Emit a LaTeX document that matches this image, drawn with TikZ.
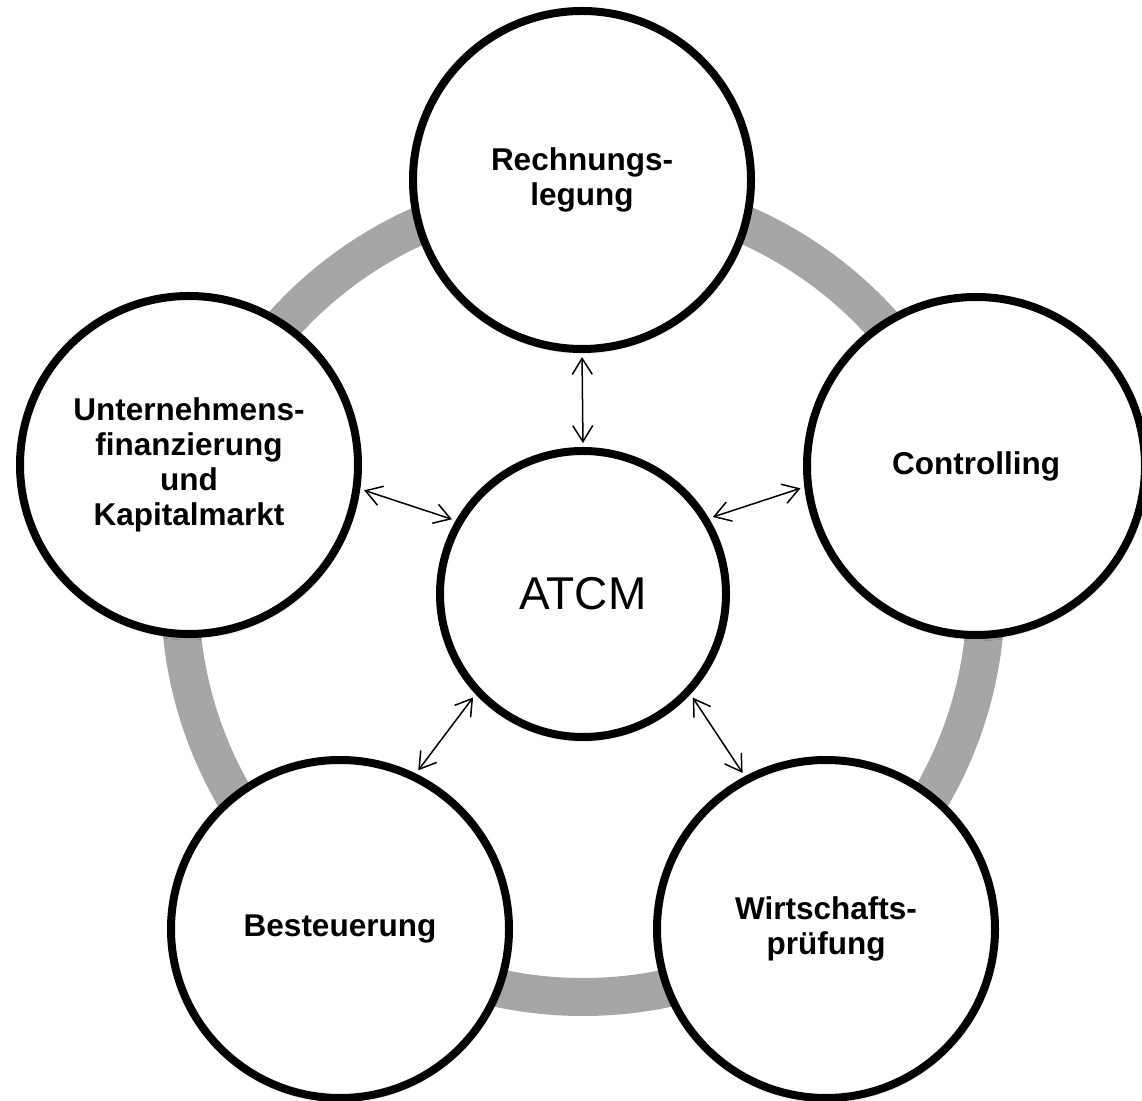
\documentclass[tikz,border=0pt]{standalone}
\usepackage{fontspec}
\setmainfont{Liberation Sans}
\usetikzlibrary{arrows.meta,shadows.blur}
\definecolor{ringgray}{RGB}{166,166,166}
\begin{document}
\begin{tikzpicture}[x=1pt,y=1pt,
  topic/.style={circle, draw=black, line width=8pt, fill=white, minimum size=338pt, inner sep=0pt, align=center,
    font=\fontsize{31.5}{35}\selectfont\bfseries,
    blur shadow={shadow xshift=0pt, shadow yshift=-3pt, shadow blur radius=3pt, shadow opacity=30}},
  hub/.style={topic, minimum size=286pt, font=\fontsize{46}{50}\selectfont},
  link/.style={{Straight Barb[length=16pt,width=20pt]}-{Straight Barb[length=16pt,width=20pt]}, line width=1.5pt, shorten <=4pt, shorten >=4pt}]
\useasboundingbox (0,0) rectangle (1142,1100);
\coordinate (m) at (583,506);
\draw[ringgray, line width=38pt] (m) circle[radius=403];
\node[hub] (c) at (m) {ATCM};
\node[topic] (t) at (582,920) {Rechnungs-\\legung};
\node[topic] (r) at (976,634) {Controlling};
\node[topic] (br) at (826,171) {Wirtschafts-\\prüfung};
\node[topic] (bl) at (340,171) {Besteuerung};
\node[topic] (l) at (189,635) {Unternehmens-\\finanzierung\\und\\Kapitalmarkt};
\draw[link] (t.270) -- (c.90);
\draw[link] (c.31) -- (r.187);
\draw[link] (c.150) -- (l.-8);
\draw[link] (c.223) -- (bl.64);
\draw[link] (c.317) -- (br.118);
\end{tikzpicture}
\end{document}
